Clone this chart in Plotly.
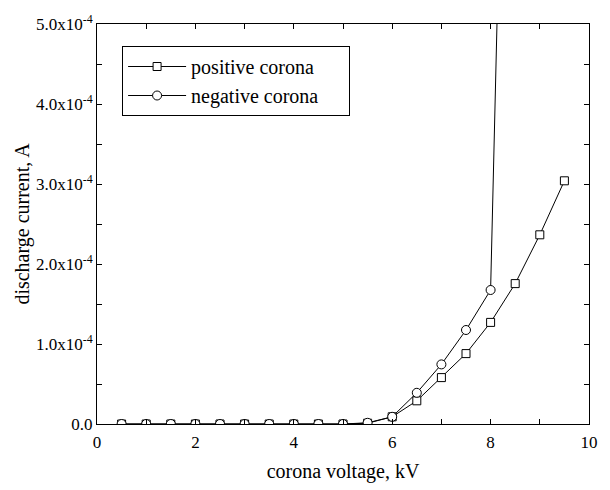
import plotly.graph_objects as go

voltage_pos = [0.5, 1.0, 1.5, 2.0, 2.5, 3.0, 3.5, 4.0, 4.5, 5.0, 5.5, 6.0, 6.5, 7.0, 7.5, 8.0, 8.5, 9.0, 9.5]
current_pos = [0, 0, 0, 0, 0, 0, 0, 0, 0, 0, 0.01e-4, 0.09e-4, 0.29e-4, 0.58e-4, 0.88e-4, 1.27e-4, 1.755e-4, 2.365e-4, 3.04e-4]

voltage_neg = [0.5, 1.0, 1.5, 2.0, 2.5, 3.0, 3.5, 4.0, 4.5, 5.0, 5.5, 6.0, 6.5, 7.0, 7.5, 8.0, 8.5]
current_neg = [0, 0, 0, 0, 0, 0, 0, 0, 0, 0, 0.015e-4, 0.09e-4, 0.39e-4, 0.745e-4, 1.175e-4, 1.675e-4, 14.5e-4]

y_tickvals = [0, 1e-4, 2e-4, 3e-4, 4e-4, 5e-4]
y_ticktext = ["0.0", "1.0x10<sup>-4</sup>", "2.0x10<sup>-4</sup>", "3.0x10<sup>-4</sup>",
              "4.0x10<sup>-4</sup>", "5.0x10<sup>-4</sup>"]
x_tickvals = [0, 2, 4, 6, 8, 10]

names = ["positive corona", "negative corona"]

FONT = "Liberation Serif"
PAD = "\u00a0" * 5

fig = go.Figure()
fig.add_trace(go.Scatter(
    x=voltage_pos, y=current_pos, mode="lines+markers", name=names[0] + PAD,
    line=dict(color="black", width=1),
    marker=dict(symbol="square", size=8, color="white", line=dict(color="black", width=1)),
))
fig.add_trace(go.Scatter(
    x=voltage_neg, y=current_neg, mode="lines+markers", name=names[1] + PAD,
    line=dict(color="black", width=1),
    marker=dict(symbol="circle", size=9, color="white", line=dict(color="black", width=1)),
))

axis_common = dict(
    showline=True, linecolor="black", linewidth=1, mirror="allticks",
    ticks="inside", ticklen=5, tickcolor="black", tickwidth=1,
    showgrid=False, zeroline=False,
    tickfont=dict(family=FONT, size=17, color="black"),
)

fig.update_xaxes(
    range=[0, 10], tickvals=x_tickvals, ticklabelstandoff=3,
    minor=dict(dtick=1, tick0=0, ticks="inside", ticklen=5, tickcolor="black", showgrid=False),
    title=dict(text="corona voltage, kV", font=dict(family=FONT, size=20, color="black"), standoff=12),
    **axis_common,
)
fig.update_yaxes(
    range=[0, 5e-4], tickvals=y_tickvals, ticktext=y_ticktext,
    minor=dict(dtick=0.5e-4, tick0=0, ticks="inside", ticklen=5, tickcolor="black", showgrid=False),
    title=dict(text="discharge current, A", font=dict(family=FONT, size=20, color="black"), standoff=0),
    **axis_common,
)

fig.update_layout(
    width=610, height=490,
    margin=dict(l=97, r=18, t=12, b=61),
    plot_bgcolor="white", paper_bgcolor="white",
    font=dict(family=FONT, color="black"),
    legend=dict(
        x=0.051, y=0.945, xanchor="left", yanchor="top",
        bordercolor="black", borderwidth=1, bgcolor="white",
        font=dict(family=FONT, size=20, color="black"),
        itemwidth=58, tracegroupgap=0,
    ),
    showlegend=True,
)

fig.write_html("out.html")
